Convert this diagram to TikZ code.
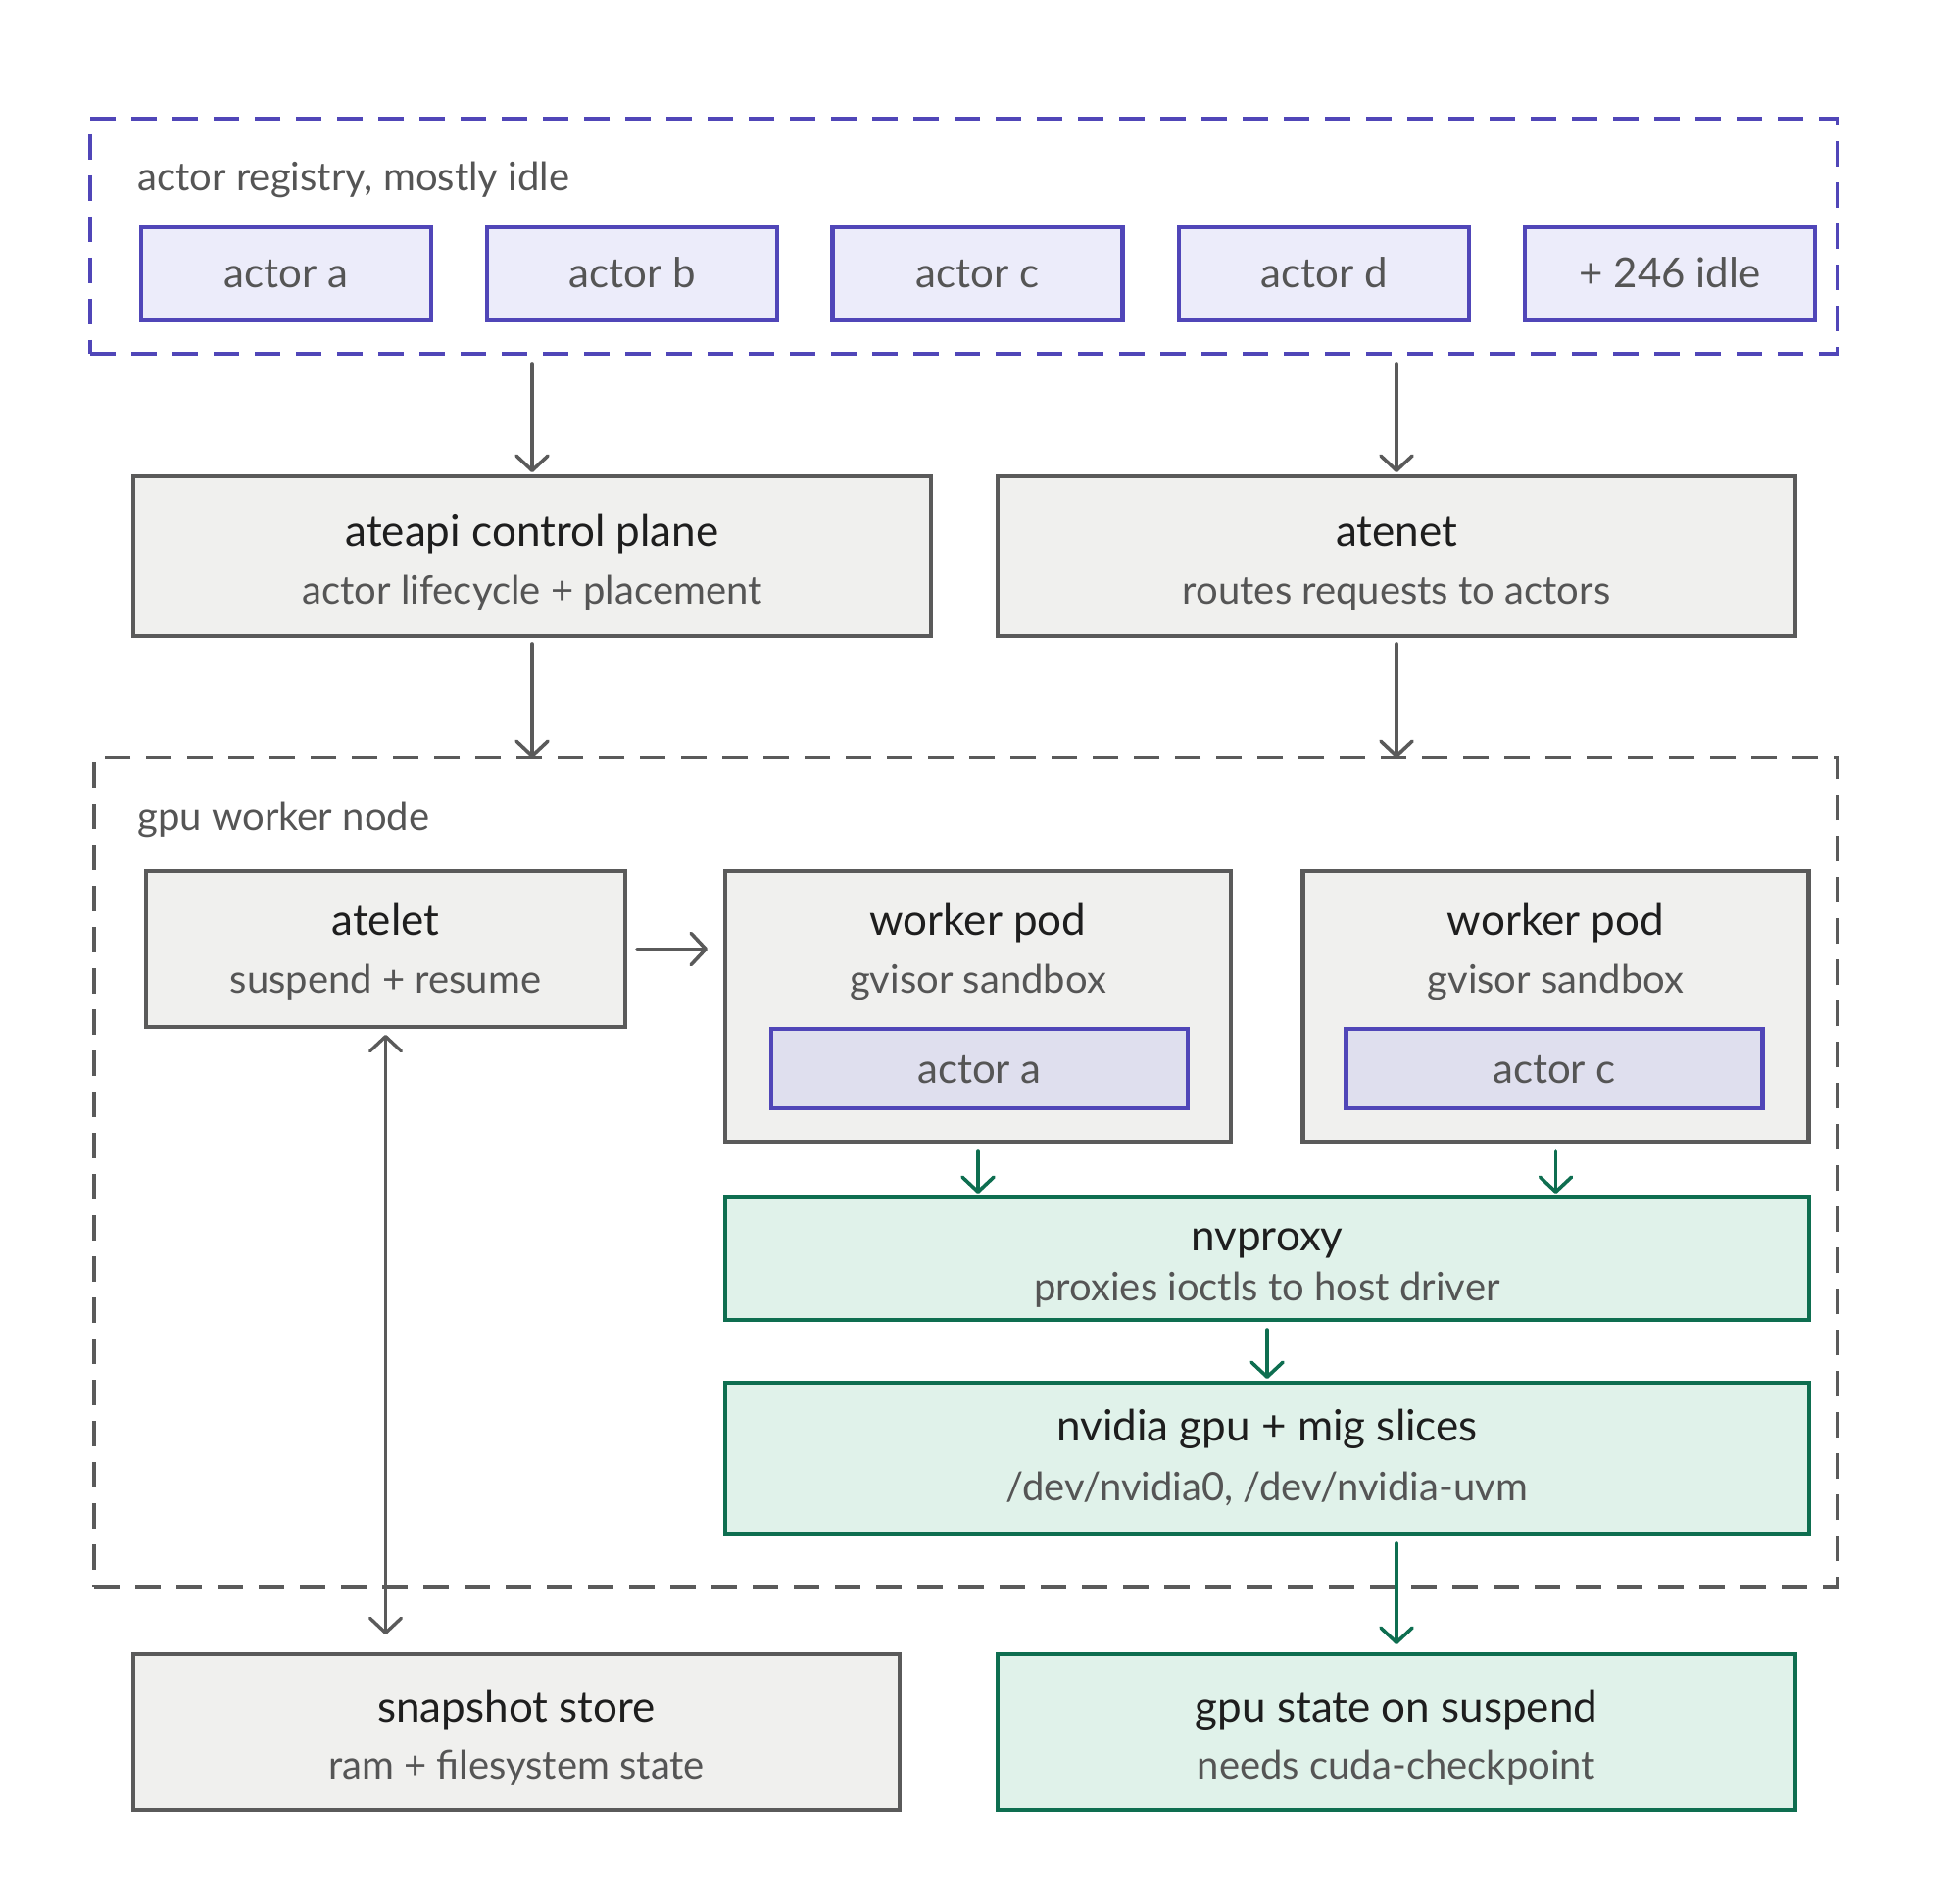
\documentclass[tikz,border=0pt]{standalone}
\usepackage{fontspec}
\setmainfont{Lato}
\usetikzlibrary{arrows.meta}
\definecolor{gstroke}{HTML}{5A5A5A}
\definecolor{gfill}{HTML}{F0F0EE}
\definecolor{pstroke}{HTML}{5046B8}
\definecolor{pfill}{HTML}{ECECFA}
\definecolor{pfilltwo}{HTML}{DFDFEE}
\definecolor{tstroke}{HTML}{0E6E50}
\definecolor{tfill}{HTML}{E0F2EA}
\definecolor{titlecol}{HTML}{1E1E1E}
\definecolor{subcol}{HTML}{555555}
\tikzset{
  sbarb/.tip={Straight Barb[length=7.5pt,width=16pt,line cap=round,line join=round]},
  box/.style={rectangle, inner sep=0pt, outer sep=0pt, line width=2.2pt},
  graybox/.style={box, draw=gstroke, fill=gfill},
  purplebox/.style={box, draw=pstroke, fill=pfill},
  greenbox/.style={box, draw=tstroke, fill=tfill},
  groupbox/.style={rectangle, inner sep=0pt, outer sep=0pt, line width=2pt, dash pattern=on 13pt off 8pt},
  ttl/.style={font=\fontsize{22}{26}\selectfont, text=titlecol, inner sep=0pt, text height=0.72em, text depth=0.22em},
  sub/.style={font=\fontsize{20}{24}\selectfont, text=subcol, inner sep=0pt, text height=0.72em, text depth=0.22em},
  act/.style={font=\fontsize{21}{25}\selectfont, text=subcol, inner sep=0pt, text height=0.72em, text depth=0.22em},
  grp/.style={font=\fontsize{20}{24}\selectfont, text=subcol, inner sep=0pt, anchor=west, text height=0.72em, text depth=0.22em},
  arr/.style={draw=gstroke, line width=1.8pt, line cap=round, -{sbarb}},
  garr/.style={draw=tstroke, line width=1.8pt, line cap=round, -{sbarb}},
  darr/.style={draw=gstroke, line width=1.7pt, line cap=round, {sbarb}-{sbarb}},
}
\begin{document}
\begin{tikzpicture}[x=0.5pt,y=-0.5pt]
\useasboundingbox[fill=white] (0,0) rectangle (2000,1941);

% actor registry group
\node[groupbox, draw=pstroke, minimum width=891.5pt, minimum height=120pt] (reg) at (983.5,241) {};
\node[grp] (regL) at (140,190) {actor registry, mostly idle};
\node[purplebox, minimum width=148pt, minimum height=47.5pt] (aa) at (292,279.5) {};
\node[purplebox, minimum width=148pt, minimum height=47.5pt] (ab) at (645,279.5) {};
\node[purplebox, minimum width=148pt, minimum height=47.5pt] (ac) at (997.5,279.5) {};
\node[purplebox, minimum width=148pt, minimum height=47.5pt] (ad) at (1351,279.5) {};
\node[purplebox, minimum width=148pt, minimum height=47.5pt] (ai) at (1704,279.5) {};
\node[act] (aaT) at (292,289) {actor a};
\node[act] (abT) at (645,289) {actor b};
\node[act] (acT) at (997.5,289) {actor c};
\node[act] (adT) at (1351,289) {actor d};
\node[act] (aiT) at (1704,289) {+ 246 idle};

% control plane
\node[graybox, minimum width=407pt, minimum height=81.5pt] (api) at (543,567.5) {};
\node[ttl] (apiT) at (543,552) {ateapi control plane};
\node[sub] (apiS) at (543,611) {actor lifecycle + placement};
\node[graybox, minimum width=407pt, minimum height=81.5pt] (net) at (1425,567.5) {};
\node[ttl] (netT) at (1425,552) {atenet};
\node[sub] (netS) at (1425,611) {routes requests to actors};

% gpu worker node group
\node[groupbox, draw=gstroke, minimum width=889.5pt, minimum height=423.5pt] (gpu) at (985.5,1196.5) {};
\node[grp] (gpuL) at (140,842) {gpu worker node};

\node[graybox, minimum width=244.5pt, minimum height=79.5pt] (atelet) at (393.5,968.5) {};
\node[ttl] (ateletT) at (393.5,949) {atelet};
\node[sub] (ateletS) at (393.5,1008) {suspend + resume};

\node[graybox, minimum width=258pt, minimum height=138pt] (pod1) at (998,1027) {};
\node[ttl] (pod1T) at (998,949) {worker pod};
\node[sub] (pod1S) at (998,1008) {gvisor sandbox};
\node[purplebox, fill=pfilltwo, minimum width=212.5pt, minimum height=40.5pt] (ia) at (999.5,1090.5) {};
\node[act] (iaT) at (999.5,1100) {actor a};

\node[graybox, minimum width=258pt, minimum height=138pt] (pod2) at (1587.5,1027) {};
\node[ttl] (pod2T) at (1587.5,949) {worker pod};
\node[sub] (pod2S) at (1587.5,1008) {gvisor sandbox};
\node[purplebox, fill=pfilltwo, minimum width=212.5pt, minimum height=40.5pt] (ic) at (1586,1090.5) {};
\node[act] (icT) at (1586,1100) {actor c};

\node[greenbox, minimum width=553pt, minimum height=62.5pt] (nvp) at (1293,1284.5) {};
\node[ttl] (nvpT) at (1293,1271) {nvproxy};
\node[sub] (nvpS) at (1293,1322) {proxies ioctls to host driver};

\node[greenbox, minimum width=553pt, minimum height=77pt] (nvg) at (1293,1488) {};
\node[ttl] (nvgT) at (1293,1465) {nvidia gpu + mig slices};
\node[sub] (nvgS) at (1293,1526) {/dev/nvidia0, /dev/nvidia-uvm};

% bottom row
\node[graybox, minimum width=391pt, minimum height=79.5pt] (snap) at (527,1767.5) {};
\node[ttl] (snapT) at (527,1752) {snapshot store};
\node[sub] (snapS) at (527,1810) {ram + filesystem state};
\node[greenbox, minimum width=407pt, minimum height=79.5pt] (gst) at (1425,1767.5) {};
\node[ttl] (gstT) at (1425,1752) {gpu state on suspend};
\node[sub] (gstS) at (1425,1810) {needs cuda-checkpoint};

% connectors
\draw[arr, shorten <=5pt, shorten >=2pt] (reg.south -| api.north) -- (api.north);
\draw[arr, shorten <=5pt, shorten >=2pt] (reg.south -| net.north) -- (net.north);
\draw[arr, shorten <=4pt, shorten >=0pt] (api.south) -- (gpu.north -| api.south);
\draw[arr, shorten <=4pt, shorten >=0pt] (net.south) -- (gpu.north -| net.south);
\draw[arr, shorten <=6pt, shorten >=9pt] (atelet.east) -- (pod1.west |- atelet.east);
\draw[garr, shorten <=5pt, shorten >=2pt] (pod1.south) -- (nvp.north -| pod1.south);
\draw[garr, shorten <=5pt, shorten >=2pt] (pod2.south) -- (nvp.north -| pod2.south);
\draw[garr, shorten <=5pt, shorten >=2pt] (nvp.south) -- (nvg.north -| nvp.south);
\draw[garr, shorten <=5pt, shorten >=5pt] (nvg.south -| gst.north) -- (gst.north);
\draw[darr, shorten <=4pt, shorten >=10pt] (atelet.south) -- (atelet.south |- snap.north);
\end{tikzpicture}
\end{document}
